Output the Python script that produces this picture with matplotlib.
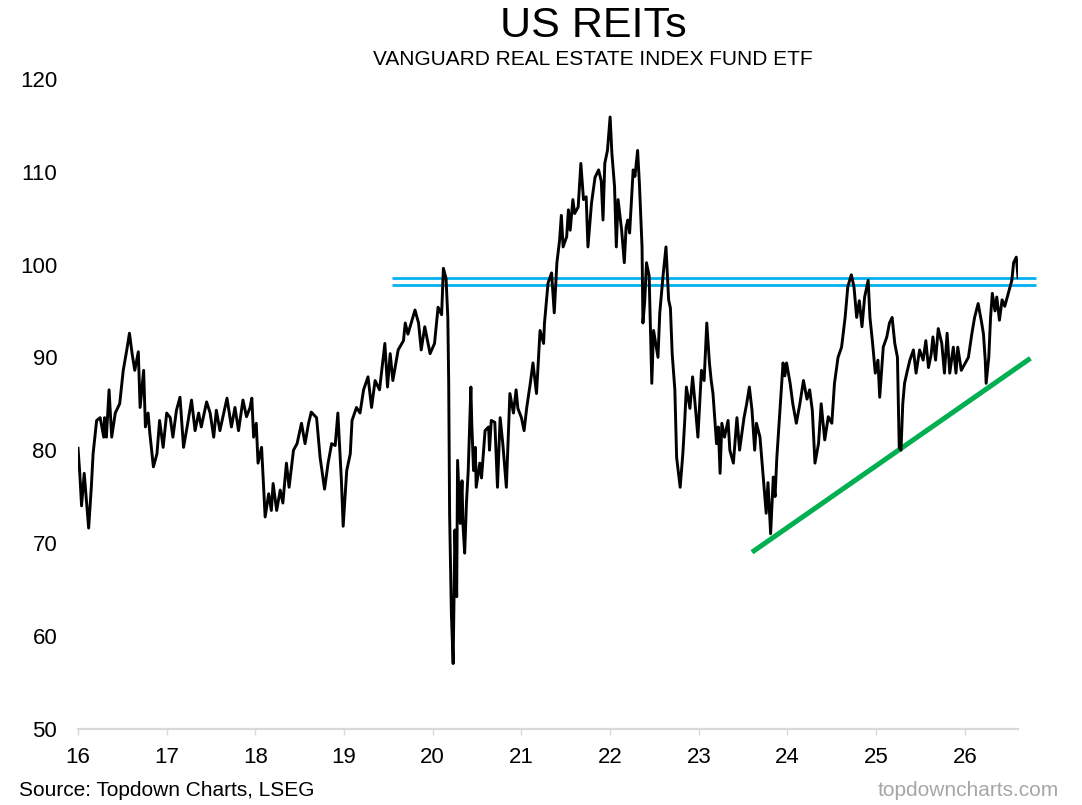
import numpy as np
import matplotlib
matplotlib.use("Agg")
import matplotlib.pyplot as plt

plt.rcParams["font.family"] = ["Liberation Sans", "DejaVu Sans"]

# VNQ price, x in years (16 = 2016)
years = [
    16.00, 16.02, 16.04, 16.07, 16.12, 16.15, 16.17, 16.21, 16.25, 16.29,
    16.30, 16.32, 16.35, 16.38, 16.42, 16.47, 16.51, 16.55, 16.58, 16.61,
    16.64, 16.68, 16.70, 16.74, 16.76, 16.79, 16.81, 16.85, 16.89, 16.92,
    16.96, 17.00, 17.04, 17.07, 17.11, 17.15, 17.19, 17.23, 17.28, 17.32,
    17.36, 17.39, 17.45, 17.49, 17.53, 17.56, 17.60, 17.68, 17.73, 17.77,
    17.81, 17.86, 17.90, 17.94, 17.96, 17.98, 18.01, 18.03, 18.07, 18.11,
    18.15, 18.18, 18.20, 18.24, 18.28, 18.31, 18.35, 18.38, 18.43, 18.47,
    18.52, 18.56, 18.60, 18.63, 18.69, 18.73, 18.78, 18.82, 18.86, 18.90,
    18.93, 18.97, 18.99, 19.03, 19.07, 19.09, 19.14, 19.18, 19.22, 19.27,
    19.31, 19.35, 19.40, 19.46, 19.49, 19.52, 19.55, 19.61, 19.67, 19.69,
    19.72, 19.80, 19.84, 19.87, 19.91, 19.97, 20.02, 20.06, 20.10, 20.12,
    20.15, 20.17, 20.18, 20.19, 20.21, 20.23, 20.25, 20.27, 20.28, 20.31,
    20.33, 20.34, 20.36, 20.38, 20.40, 20.43, 20.44, 20.46, 20.48, 20.49,
    20.53, 20.55, 20.59, 20.63, 20.64, 20.66, 20.70, 20.73, 20.76, 20.79,
    20.83, 20.85, 20.87, 20.91, 20.94, 20.96, 21.00, 21.03, 21.06, 21.10,
    21.13, 21.17, 21.21, 21.25, 21.26, 21.30, 21.34, 21.37, 21.40, 21.43,
    21.45, 21.47, 21.51, 21.53, 21.55, 21.58, 21.60, 21.64, 21.67, 21.70,
    21.73, 21.75, 21.79, 21.83, 21.87, 21.90, 21.92, 21.94, 21.97, 22.00,
    22.02, 22.05, 22.07, 22.09, 22.13, 22.16, 22.18, 22.20, 22.22, 22.26,
    22.28, 22.31, 22.33, 22.36, 22.37, 22.39, 22.41, 22.44, 22.47, 22.49,
    22.52, 22.54, 22.56, 22.60, 22.63, 22.66, 22.68, 22.70, 22.73, 22.75,
    22.79, 22.82, 22.84, 22.86, 22.90, 22.93, 22.96, 22.99, 23.03, 23.06,
    23.09, 23.12, 23.14, 23.16, 23.20, 23.22, 23.24, 23.26, 23.29, 23.33,
    23.35, 23.39, 23.43, 23.46, 23.51, 23.54, 23.57, 23.60, 23.63, 23.65,
    23.69, 23.73, 23.76, 23.78, 23.81, 23.84, 23.86, 23.88, 23.91, 23.95,
    23.97, 23.99, 24.03, 24.06, 24.10, 24.14, 24.18, 24.22, 24.25, 24.28,
    24.31, 24.35, 24.38, 24.42, 24.46, 24.50, 24.53, 24.57, 24.61, 24.65,
    24.68, 24.72, 24.75, 24.78, 24.81, 24.84, 24.87, 24.91, 24.93, 24.96,
    24.99, 25.02, 25.04, 25.08, 25.12, 25.15, 25.18, 25.21, 25.24, 25.26,
    25.28, 25.30, 25.32, 25.35, 25.38, 25.42, 25.45, 25.49, 25.53, 25.56,
    25.59, 25.62, 25.64, 25.67, 25.70, 25.74, 25.77, 25.80, 25.83, 25.87,
    25.90, 25.92, 25.96, 26.00, 26.04, 26.08, 26.11, 26.15, 26.19, 26.21,
    26.23, 26.24, 26.27, 26.29, 26.31, 26.34, 26.36, 26.39, 26.42, 26.45,
    26.49, 26.53, 26.55, 26.58, 26.60,
]
price = [
    80.2, 77.5, 74.0, 77.5, 71.6, 76.0, 79.6, 83.2, 83.5, 81.4,
    83.5, 81.4, 86.5, 81.4, 84.0, 85.0, 88.6, 90.8, 92.6, 90.4,
    88.6, 90.6, 84.6, 88.6, 82.5, 84.0, 81.8, 78.2, 79.6, 83.2,
    80.3, 84.0, 83.5, 81.4, 84.3, 85.7, 80.3, 82.5, 85.4, 82.1,
    84.0, 82.5, 85.2, 84.0, 81.4, 84.3, 82.1, 85.6, 82.5, 84.6,
    82.1, 85.4, 83.6, 84.6, 85.6, 81.4, 82.9, 78.6, 80.3, 72.8,
    75.3, 73.5, 76.4, 73.5, 75.7, 74.3, 78.6, 76.0, 80.0, 80.7,
    82.9, 80.7, 82.9, 84.1, 83.5, 79.2, 75.8, 78.6, 80.7, 80.5,
    84.0, 76.7, 71.8, 77.8, 79.6, 83.2, 84.6, 84.0, 86.5, 87.9,
    84.6, 87.5, 86.5, 91.5, 86.8, 90.4, 87.5, 90.8, 91.8, 93.7,
    92.5, 95.1, 93.7, 90.8, 93.3, 90.4, 91.5, 95.4, 94.6, 99.6,
    98.5, 94.3, 87.2, 73.2, 62.4, 57.0, 71.4, 64.2, 78.9, 72.1,
    76.7, 72.1, 68.9, 74.3, 77.8, 86.8, 82.9, 77.8, 80.3, 76.0,
    78.6, 77.0, 82.1, 82.5, 80.0, 83.2, 83.0, 76.0, 83.5, 80.7,
    76.0, 81.0, 86.1, 84.0, 86.5, 84.5, 83.5, 82.1, 84.6, 87.2,
    89.4, 86.1, 92.9, 91.5, 93.7, 98.0, 99.1, 94.8, 100.2, 102.6,
    105.3, 101.9, 103.0, 105.9, 103.7, 107.0, 105.5, 106.2, 110.9, 107.0,
    107.3, 101.9, 106.6, 109.4, 110.2, 109.0, 104.8, 110.9, 112.3, 115.9,
    112.0, 108.4, 101.9, 107.0, 103.7, 100.2, 104.0, 104.8, 103.4, 110.2,
    109.5, 112.3, 108.8, 101.9, 93.7, 96.0, 100.2, 98.8, 87.2, 92.9,
    91.2, 90.0, 94.8, 99.1, 101.9, 96.2, 95.3, 90.4, 86.5, 79.2,
    76.0, 79.6, 82.9, 86.8, 84.5, 87.9, 84.8, 81.4, 88.6, 87.5,
    93.7, 89.4, 87.5, 86.1, 80.7, 82.5, 77.5, 82.9, 81.4, 83.2,
    80.0, 78.6, 83.5, 80.0, 83.5, 85.0, 86.8, 84.3, 80.0, 82.9,
    81.4, 76.7, 73.2, 76.5, 71.0, 77.1, 75.0, 79.2, 83.5, 89.4,
    88.0, 89.4, 87.2, 85.0, 82.9, 85.0, 87.5, 85.5, 86.5, 84.3,
    78.6, 80.7, 85.0, 81.1, 83.6, 82.9, 87.2, 90.0, 91.1, 94.3,
    97.6, 98.9, 97.6, 94.3, 96.1, 93.3, 96.5, 98.3, 94.3, 91.5,
    88.3, 89.7, 85.7, 91.1, 92.2, 93.7, 94.3, 91.5, 90.0, 80.3,
    80.0, 85.0, 87.2, 88.5, 89.7, 90.8, 88.3, 90.8, 89.7, 91.8,
    88.9, 90.3, 92.2, 89.7, 93.1, 91.5, 88.3, 92.6, 88.3, 91.1,
    88.3, 91.1, 88.6, 89.3, 90.0, 92.6, 94.3, 95.8, 93.7, 92.5,
    89.7, 87.2, 90.0, 94.3, 96.9, 95.0, 96.5, 94.0, 96.2, 95.5,
    96.9, 98.3, 100.2, 100.8, 98.6,
]

# resistance band (two cyan lines) and rising support (green)
resist_levels = [98.5, 97.8]
resist_span = [19.54, 26.80]
support_x = [23.60, 26.74]
support_y = [69.0, 89.9]

x_ticks = [16, 17, 18, 19, 20, 21, 22, 23, 24, 25, 26]
y_ticks = [50, 60, 70, 80, 90, 100, 110, 120]

fig = plt.figure(figsize=(10.82, 8.05), dpi=100)
ax = fig.add_axes([0.0721, 0.0950, 0.8688, 0.8069])

for lvl in resist_levels:
    ax.plot(resist_span, [lvl, lvl], color="#00B0F0", lw=2.0,
            solid_capstyle="butt", clip_on=False, zorder=2)
ax.plot(support_x, support_y, color="#00B050", lw=3.6,
        solid_capstyle="butt", clip_on=False, zorder=2)
ax.plot(years, price, color="black", lw=2.1, zorder=3)

ax.set_xlim(16, 26.6)
ax.set_ylim(50, 120)
ax.set_xticks(x_ticks)
ax.set_xticklabels([str(t) for t in x_ticks])
ax.set_yticks(y_ticks)

for s in ["top", "right", "left"]:
    ax.spines[s].set_visible(False)
ax.spines["bottom"].set_color("#D9D9D9")
ax.spines["bottom"].set_linewidth(1.6)
ax.tick_params(axis="x", direction="out", length=4.5, width=1,
               color="#D9D9D9", labelsize=16, pad=9)
ax.tick_params(axis="y", length=0, labelsize=16, pad=15)

fig.text(0.548, 0.9544, "US REITs", ha="center", va="baseline", fontsize=31)
fig.text(0.548, 0.919, "VANGUARD REAL ESTATE INDEX FUND ETF",
         ha="center", va="baseline", fontsize=15)
fig.text(0.0178, 0.0112, "Source: Topdown Charts, LSEG",
         ha="left", va="baseline", fontsize=15)
fig.text(0.9787, 0.0112, "topdowncharts.com", ha="right", va="baseline",
         fontsize=15, color="#A6A6A6")

fig.savefig("out.png", dpi=100)
